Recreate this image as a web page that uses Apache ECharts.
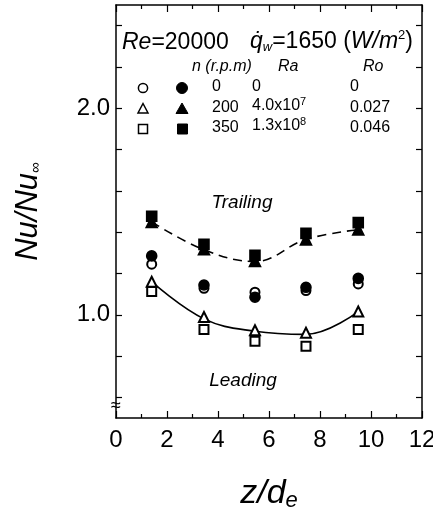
<!DOCTYPE html>
<html>
<head>
<meta charset="utf-8">
<script src="https://cdn.jsdelivr.net/npm/echarts@6/dist/echarts.min.js"></script>
<style>
  html, body { margin: 0; padding: 0; background: #fff; }
  #main { width: 433px; height: 511px; }
</style>
</head>
<body>
<div id="main"></div>
<script>
// z/de positions of the measurements
var zPos = [1.4, 3.45, 5.45, 7.45, 9.5];

// Nu/Nu_inf
var stat0 = [1.245, 1.128, 1.109, 1.117, 1.149];     // open circle, n=0
var rot200Lead = [1.16, 0.989, 0.925, 0.913, 1.016]; // open triangle
var rot350Lead = [1.112, 0.928, 0.872, 0.848, 0.929];// open square
var stat0b = [1.285, 1.144, 1.085, 1.133, 1.176];    // filled circle
var rot200Trail = [1.449, 1.317, 1.261, 1.365, 1.413]; // filled triangle
var rot350Trail = [1.477, 1.341, 1.288, 1.394, 1.446]; // filled square

// fitted curves drawn in the figure
var trailFit = [1.45, 1.315, 1.258, 1.365, 1.412];
var leadFit = [1.16, 0.98, 0.92, 0.905, 1.015];

var yTicks = [0.6, 0.8, 1.0, 1.2, 1.4, 1.6, 1.8, 2.0, 2.2, 2.4];
var yLabels = [1.0, 2.0];

// legend table
var nCol = ['0', '200', '350'];
var raCol = ['0', '4.0x10{sup|7}', '1.3x10{sup|8}'];
var roCol = ['0', '0.027', '0.046'];

function pairs(ys) {
    var out = [];
    for (var i = 0; i < zPos.length; i++) {
        out.push([zPos[i], ys[i]]);
    }
    return out;
}

var FONT = 'Liberation Sans';

function pointSeries(ys, sym, size) {
    return {
        type: 'scatter',
        data: pairs(ys),
        symbol: sym,
        symbolSize: size,
        itemStyle: { color: '#000', borderColor: '#000', borderWidth: 1.6, opacity: 1 },
        z: 3
    };
}

var myChart = echarts.init(document.getElementById('main'));

// x axes (bottom + mirrored top)
function xAx(pos, labels) {
    return {
        type: 'value',
        position: pos,
        min: 0,
        max: 12,
        interval: 2,
        axisLine: { show: true, onZero: false, lineStyle: { color: '#000', width: 1.5 } },
        axisTick: { show: true, inside: true, length: 7, lineStyle: { color: '#000', width: 1.2 } },
        minorTick: { show: true, splitNumber: 2, length: 4, lineStyle: { color: '#000', width: 1.2 } },
        splitLine: { show: false },
        axisLabel: {
            show: labels,
            fontFamily: FONT,
            fontSize: 24,
            color: '#000',
            margin: 10
        }
    };
}

function yAx(pos, labels) {
    return {
        type: 'value',
        position: pos,
        min: 0.5,
        max: 2.5,
        axisLine: { show: true, onZero: false, lineStyle: { color: '#000', width: 1.5 } },
        axisTick: {
            show: true, inside: true, length: 6,
            customValues: yTicks,
            lineStyle: { color: '#000', width: 1.2 }
        },
        splitLine: { show: false },
        axisLabel: {
            show: labels,
            customValues: yLabels,
            formatter: function (v) { return v.toFixed(1); },
            fontFamily: FONT,
            fontSize: 24,
            color: '#000',
            margin: 6
        }
    };
}

var xBottom = xAx('bottom', true);
xBottom.name = '{i|z/d}{sub|e}';
xBottom.nameLocation = 'middle';
xBottom.nameGap = 58;
xBottom.nameTextStyle = {
    rich: {
        i: { fontFamily: FONT, fontStyle: 'italic', fontSize: 34, color: '#000' },
        sub: { fontFamily: FONT, fontStyle: 'italic', fontSize: 22, color: '#000', padding: [14, 0, 0, 0] }
    }
};

var yLeft = yAx('left', true);
yLeft.name = '{i|Nu/Nu}{sub|∞}';
yLeft.nameLocation = 'middle';
yLeft.nameGap = 72;
yLeft.nameRotate = 90;
yLeft.nameTextStyle = {
    rich: {
        i: { fontFamily: FONT, fontStyle: 'italic', fontSize: 31, color: '#000' },
        sub: { fontFamily: FONT, fontSize: 15, color: '#000', padding: [14, 0, 0, 0] }
    }
};

// legend graphics
var g = [];
var rowY = [88, 109, 129];
var txt = { fontFamily: FONT, fontSize: 16, fill: '#000' };
var supRich = { sup: { fontFamily: FONT, fontSize: 11, verticalAlign: 'top', padding: [0, 0, 8, 0] } };

g.push({
    type: 'text', left: 122, top: 31,
    style: {
        text: '{i|Re}{n|=20000}',
        rich: {
            i: { fontFamily: FONT, fontStyle: 'italic', fontSize: 23, fill: '#000' },
            n: { fontFamily: FONT, fontSize: 23, fill: '#000' }
        }
    }
});
g.push({
    type: 'text', left: 250, top: 29,
    style: {
        text: '{i|q̇}{sub|w}{n|=1650 (}{i|W/m}{sup|2}{n|)}',
        rich: {
            i: { fontFamily: FONT, fontStyle: 'italic', fontSize: 23, fill: '#000' },
            n: { fontFamily: FONT, fontSize: 23, fill: '#000' },
            sub: { fontFamily: FONT, fontStyle: 'italic', fontSize: 13, fill: '#000', padding: [12, 0, 0, 0] },
            sup: { fontFamily: FONT, fontSize: 13, fill: '#000', padding: [0, 0, 12, 0] }
        }
    }
});
var headStyle = { fontFamily: FONT, fontStyle: 'italic', fontSize: 16, fill: '#000' };
g.push({ type: 'text', left: 192, top: 59, style: Object.assign({ text: 'n (r.p.m)' }, headStyle) });
g.push({ type: 'text', left: 278, top: 59, style: Object.assign({ text: 'Ra' }, headStyle) });
g.push({ type: 'text', left: 363, top: 59, style: Object.assign({ text: 'Ro' }, headStyle) });

for (var r = 0; r < 3; r++) {
    var cy = rowY[r];
    g.push({ type: 'text', left: 212, top: cy - 9, style: Object.assign({ text: nCol[r] }, txt) });
    g.push({ type: 'text', left: 252, top: cy - 9 - (r > 0 ? 4 : 0), style: Object.assign({ text: raCol[r], rich: supRich }, txt) });
    g.push({ type: 'text', left: 350, top: cy - 9, style: Object.assign({ text: roCol[r] }, txt) });
}
var open = { fill: '#fff', stroke: '#000', lineWidth: 1.5 };
var solid = { fill: '#000', stroke: '#000', lineWidth: 1 };
g.push({ type: 'circle', shape: { cx: 143, cy: rowY[0], r: 4.6 }, style: open });
g.push({ type: 'circle', shape: { cx: 182, cy: rowY[0], r: 5.5 }, style: solid });
g.push({ type: 'polygon', shape: { points: [[143, rowY[1] - 5.5], [148, rowY[1] + 4], [138, rowY[1] + 4]] }, style: open });
g.push({ type: 'polygon', shape: { points: [[182, rowY[1] - 6], [188, rowY[1] + 4.5], [176, rowY[1] + 4.5]] }, style: solid });
g.push({ type: 'rect', shape: { x: 138.5, y: rowY[2] - 4.5, width: 9, height: 9 }, style: open });
g.push({ type: 'rect', shape: { x: 177.5, y: rowY[2] - 5, width: 10, height: 10 }, style: solid });

// region labels
var regStyle = { fontFamily: FONT, fontStyle: 'italic', fontSize: 19, fill: '#000', align: 'center', verticalAlign: 'middle' };
g.push({ type: 'text', x: 242, y: 203, style: Object.assign({ text: 'Trailing' }, regStyle) });
g.push({ type: 'text', x: 243, y: 381, style: Object.assign({ text: 'Leading' }, regStyle) });

// axis break mark
g.push({
    type: 'text', x: 116, y: 406, z: 10,
    style: { text: '≈', fontFamily: FONT, fontSize: 18, fill: '#000', align: 'center', verticalAlign: 'middle' }
});

var option = {
    backgroundColor: '#fff',
    animation: false,
    grid: { left: 116, right: 11, top: 5, bottom: 93, containLabel: false, outerBoundsMode: 'none' },
    xAxis: [xBottom, xAx('top', false)],
    yAxis: [yLeft, yAx('right', false)],
    graphic: g,
    series: [
        {
            type: 'line', data: pairs(trailFit), smooth: 0.4, showSymbol: false,
            lineStyle: { color: '#000', width: 1.6, type: [9, 6] }, z: 2
        },
        {
            type: 'line', data: pairs(leadFit), smooth: 0.4, showSymbol: false,
            lineStyle: { color: '#000', width: 1.6 }, z: 2
        },
        pointSeries(stat0, 'emptyCircle', 9),
        pointSeries(rot200Lead, 'emptyTriangle', 10),
        pointSeries(rot350Lead, 'emptyRect', 9),
        pointSeries(stat0b, 'circle', 10),
        pointSeries(rot200Trail, 'triangle', 11),
        pointSeries(rot350Trail, 'rect', 10)
    ]
};
myChart.setOption(option);
</script>
</body>
</html>
